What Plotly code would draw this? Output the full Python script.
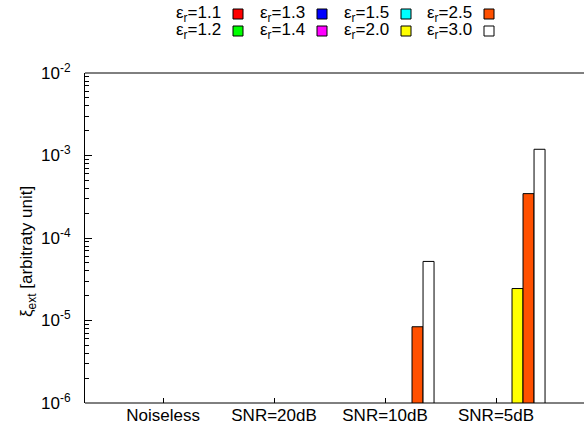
import plotly.graph_objects as go

# Categories on the horizontal axis
categories = ["Noiseless", "SNR=20dB", "SNR=10dB", "SNR=5dB"]

# Relative permittivity of each series, in bar order within a group
eps_labels = ["1.1", "1.2", "1.3", "1.4", "1.5", "2.0", "2.5", "3.0"]
eps_colors = ["#ff0000", "#00ff00", "#0000ff", "#ff00ff",
              "#00ffff", "#ffff00", "#ff5000", "#ffffff"]

# Extraction error per series (None = below the plotted range)
xi_11 = [None, None, None, None]
xi_12 = [None, None, None, None]
xi_13 = [None, None, None, None]
xi_14 = [None, None, None, None]
xi_15 = [None, None, None, None]
xi_20 = [None, None, None, 2.44e-5]
xi_25 = [None, None, 8.4e-6, 3.45e-4]
xi_30 = [None, None, 5.2e-5, 1.19e-3]
series = [xi_11, xi_12, xi_13, xi_14, xi_15, xi_20, xi_25, xi_30]

y_tick_exps = [-6, -5, -4, -3, -2]

FONT = "Liberation Sans, Arial, sans-serif"
FS = 17
W, H = 584, 436
ML, MR, MT, MB = 85, 20, 73, 33

xpos = list(range(len(categories)))

fig = go.Figure()
for lab, col, vals in zip(eps_labels, eps_colors, series):
    fig.add_trace(go.Bar(
        x=xpos, y=vals, name="ε<sub>r</sub>=" + lab,
        marker=dict(color=col, line=dict(color="#000000", width=1)),
        showlegend=False,
    ))

pw, ph = W - ML - MR, H - MT - MB
def px2paper(x, y):
    return (x - ML) / pw, (H - MB - y) / ph

# Legend drawn gnuplot-style: label text followed by a colour box, 2 rows x 4 columns
col_box_left = [233, 317, 401, 484]
row_center = [14, 31]
for i, (lab, col) in enumerate(zip(eps_labels, eps_colors)):
    c, r = i // 2, i % 2
    bx, cy = col_box_left[c], row_center[r]
    tx, ty = px2paper(bx - 10, cy)
    fig.add_annotation(x=tx, y=ty, xref="paper", yref="paper",
                       text="ε<sub>r</sub>=" + lab, showarrow=False,
                       xanchor="right", yanchor="middle",
                       font=dict(family=FONT, size=FS, color="#000000"))
    x0, y0 = px2paper(bx, cy + 5)
    x1, y1 = px2paper(bx + 10, cy - 5)
    fig.add_shape(type="rect", xref="paper", yref="paper",
                  x0=x0, y0=y0, x1=x1, y1=y1,
                  fillcolor=col, line=dict(color="#000000", width=1))

# Frame: top border and bottom axis line run on to the right edge (open right side)
xr = (W - ML) / pw
fig.add_shape(type="line", xref="paper", yref="paper",
              x0=0, x1=xr, y0=1, y1=1, line=dict(color="#000000", width=1))
fig.add_shape(type="line", xref="paper", yref="paper",
              x0=0, x1=xr, y0=0, y1=0, line=dict(color="#000000", width=1))

# Vertical axis title
ax, ay = px2paper(28, 252)
fig.add_annotation(x=ax, y=ay, xref="paper", yref="paper",
                   text="ξ<sub>ext</sub> [arbitraty unit]", showarrow=False,
                   textangle=-90, xanchor="center", yanchor="middle",
                   font=dict(family=FONT, size=FS, color="#000000"))

minor_vals = [k * 10.0 ** e for e in range(-6, -2) for k in range(2, 10)]

# x range set so that groups sit 111 px apart
x_left = -0.748
x_right = x_left + pw / 111.0

fig.update_layout(
    width=W, height=H,
    margin=dict(l=ML, r=MR, t=MT, b=MB, pad=0),
    paper_bgcolor="#ffffff", plot_bgcolor="#ffffff",
    barmode="group", bargap=0.207, bargroupgap=0,
    font=dict(family=FONT, size=FS, color="#000000"),
    xaxis=dict(
        range=[x_left, x_right],
        tickvals=[i - 0.045 for i in xpos], ticktext=categories,
        ticks="inside", ticklen=5, tickcolor="#000000",
        showline=False, mirror=False,
        showgrid=False, zeroline=False,
        tickfont=dict(family=FONT, size=FS),
    ),
    yaxis=dict(
        type="log", range=[-6, -2],
        tickvals=[10.0 ** e for e in y_tick_exps],
        ticktext=["10<sup>%d</sup>" % e for e in y_tick_exps],
        ticks="inside", ticklen=7, tickcolor="#000000",
        minor=dict(tickvals=minor_vals, ticks="inside", ticklen=4,
                   tickcolor="#000000", showgrid=False),
        showline=True, linecolor="#000000", linewidth=1, mirror=False,
        showgrid=False, zeroline=False,
        ticklabelstandoff=10,
        tickfont=dict(family=FONT, size=FS),
    ),
)

fig.write_html("out.html")
